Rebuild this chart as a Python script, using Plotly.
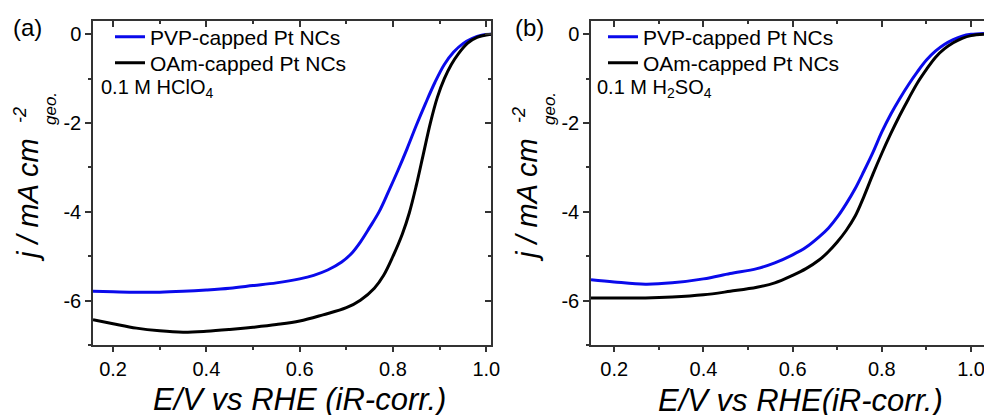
import plotly.graph_objects as go

# ---------------- data ----------------
# Panel (a) 0.1 M HClO4
E_a_pvp = [0.157, 0.20, 0.25, 0.30, 0.35, 0.40, 0.45, 0.50, 0.55, 0.60, 0.63, 0.66, 0.69, 0.71,
           0.73, 0.75, 0.77, 0.79, 0.81, 0.83, 0.85, 0.87, 0.89, 0.91, 0.93, 0.95, 0.97, 0.99, 1.01]
j_a_pvp = [-5.79, -5.80, -5.81, -5.81, -5.79, -5.76, -5.72, -5.66, -5.60, -5.51, -5.43, -5.31, -5.13, -4.95,
           -4.68, -4.35, -4.00, -3.55, -3.08, -2.58, -2.05, -1.55, -1.08, -0.68, -0.40, -0.21, -0.09, -0.02, 0.0]
E_a_oam = [0.157, 0.20, 0.25, 0.30, 0.35, 0.40, 0.45, 0.50, 0.55, 0.60, 0.65, 0.70, 0.73, 0.76, 0.78,
           0.80, 0.82, 0.835, 0.85, 0.865, 0.88, 0.895, 0.91, 0.925, 0.94, 0.96, 0.98, 1.01]
j_a_oam = [-6.43, -6.52, -6.62, -6.68, -6.71, -6.69, -6.65, -6.60, -6.54, -6.46, -6.32, -6.16, -5.99, -5.72, -5.43,
           -5.00, -4.50, -4.02, -3.40, -2.70, -2.00, -1.42, -1.00, -0.68, -0.44, -0.20, -0.07, 0.0]

# Panel (b) 0.1 M H2SO4
E_b_pvp = [0.148, 0.20, 0.27, 0.33, 0.40, 0.46, 0.52, 0.56, 0.60, 0.63, 0.66, 0.68, 0.70, 0.72, 0.74,
           0.76, 0.78, 0.80, 0.82, 0.84, 0.86, 0.88, 0.90, 0.92, 0.94, 0.96, 0.98, 1.00, 1.029]
j_b_pvp = [-5.53, -5.58, -5.63, -5.60, -5.51, -5.39, -5.28, -5.15, -4.97, -4.80, -4.56, -4.37, -4.12, -3.82, -3.48,
           -3.08, -2.66, -2.20, -1.80, -1.45, -1.13, -0.84, -0.58, -0.38, -0.23, -0.12, -0.04, 0.0, 0.02]
E_b_oam = [0.148, 0.20, 0.27, 0.33, 0.40, 0.46, 0.52, 0.56, 0.60, 0.63, 0.66, 0.68, 0.70, 0.72, 0.74,
           0.76, 0.78, 0.80, 0.82, 0.84, 0.86, 0.88, 0.90, 0.92, 0.94, 0.96, 0.98, 1.00, 1.029]
j_b_oam = [-5.94, -5.94, -5.94, -5.92, -5.87, -5.79, -5.70, -5.60, -5.43, -5.28, -5.08, -4.90, -4.68, -4.42, -4.10,
           -3.65, -3.15, -2.68, -2.24, -1.83, -1.45, -1.09, -0.79, -0.52, -0.33, -0.19, -0.09, -0.03, 0.0]

series_names = ["PVP-capped Pt NCs", "OAm-capped Pt NCs"]
x_tickvals = [0.2, 0.4, 0.6, 0.8, 1.0]
x_ticktext = ["0.2", "0.4", "0.6", "0.8", "1.0"]
y_tickvals = [-6, -4, -2, 0]
y_ticktext = ["-6", "-4", "-2", "0"]
xrange_a = [0.157, 1.01]
xrange_b = [0.148, 1.029]
yrange = [-7.0, 0.3]

# ---------------- style ----------------
W, H = 984, 415
FONT = "Liberation Sans, Arial, sans-serif"
BLUE = "rgb(10,10,235)"
BLACK = "rgb(0,0,0)"
AX = "#333333"


def X(px):
    return px / W


def Y(py):
    return 1 - py / H


fig = go.Figure()

# panel a
fig.add_trace(go.Scatter(x=E_a_pvp, y=j_a_pvp, mode="lines", name=series_names[0],
                         line=dict(color=BLUE, width=3, shape="spline"), xaxis="x", yaxis="y", legend="legend"))
fig.add_trace(go.Scatter(x=E_a_oam, y=j_a_oam, mode="lines", name=series_names[1],
                         line=dict(color=BLACK, width=3, shape="spline"), xaxis="x", yaxis="y", legend="legend2"))
# panel b
fig.add_trace(go.Scatter(x=E_b_pvp, y=j_b_pvp, mode="lines", name=series_names[0],
                         line=dict(color=BLUE, width=3, shape="spline"), xaxis="x2", yaxis="y2", legend="legend3"))
fig.add_trace(go.Scatter(x=E_b_oam, y=j_b_oam, mode="lines", name=series_names[1],
                         line=dict(color=BLACK, width=3, shape="spline"), xaxis="x2", yaxis="y2", legend="legend4"))
# empty traces to activate overlay axes carrying inside mirror ticks
fig.add_trace(go.Scatter(x=[None], y=[None], xaxis="x3", yaxis="y3", showlegend=False, hoverinfo="skip"))
fig.add_trace(go.Scatter(x=[None], y=[None], xaxis="x4", yaxis="y4", showlegend=False, hoverinfo="skip"))

dom_a = [X(93), X(491)]
dom_b = [X(591), 1.0]
dom_y = [Y(345), Y(21)]

tickfont = dict(family=FONT, size=20, color="black")


def xax(rng, dom, anchor):
    return dict(range=rng, domain=dom, anchor=anchor, showgrid=False, zeroline=False,
                showline=True, linecolor=AX, linewidth=1.5, mirror=True,
                tickmode="array", tickvals=x_tickvals, ticktext=x_ticktext,
                ticks="outside", ticklen=5, tickwidth=1.5, tickcolor=AX, tickfont=tickfont,
                ticklabeloverflow="allow",
                minor=dict(dtick=0.1, tick0=0.1, ticks="outside", ticklen=3, tickwidth=1.5, tickcolor=AX),
                automargin=False, fixedrange=True)


def yax(dom, anchor, mirror):
    return dict(range=yrange, domain=dom, anchor=anchor, showgrid=False, zeroline=False,
                showline=True, linecolor=AX, linewidth=1.5, mirror=mirror,
                tickmode="array", tickvals=y_tickvals, ticktext=y_ticktext,
                ticks="outside", ticklen=6, tickwidth=1.5, tickcolor=AX, tickfont=tickfont,
                minor=dict(dtick=1, tick0=0, ticks="outside", ticklen=3, tickwidth=1.5, tickcolor=AX),
                automargin=False, fixedrange=True)


def overlay_x(rng, over, anchor):
    return dict(range=rng, overlaying=over, side="top", anchor=anchor, showgrid=False, zeroline=False,
                showline=False, showticklabels=False, tickmode="array", tickvals=x_tickvals,
                ticks="inside", ticklen=6, tickwidth=1.5, tickcolor=AX,
                minor=dict(dtick=0.1, tick0=0.1, ticks="inside", ticklen=3, tickwidth=1.5, tickcolor=AX),
                automargin=False, fixedrange=True)


def overlay_y(over, anchor, show):
    return dict(range=yrange, overlaying=over, side="right", anchor=anchor, showgrid=False, zeroline=False,
                showline=False, showticklabels=False, tickmode="array", tickvals=y_tickvals,
                ticks="inside" if show else "", ticklen=6, tickwidth=1.5, tickcolor=AX,
                minor=dict(dtick=1, tick0=0, ticks="inside" if show else "", ticklen=3, tickwidth=1.5, tickcolor=AX),
                automargin=False, fixedrange=True)


def leg(xpx, ypx):
    return dict(x=X(xpx), y=Y(ypx), font=dict(family=FONT, size=21, color="black"), bgcolor="rgba(0,0,0,0)",
                borderwidth=0, xanchor="left", yanchor="middle", tracegroupgap=0, itemwidth=30)


fig.update_layout(
    width=W, height=H, autosize=False,
    margin=dict(l=0, r=0, t=0, b=0, pad=0),
    paper_bgcolor="white", plot_bgcolor="white",
    showlegend=True,
    xaxis=xax(xrange_a, dom_a, "y"),
    yaxis=yax(dom_y, "x", True),
    xaxis2=xax(xrange_b, dom_b, "y2"),
    yaxis2=yax(dom_y, "x2", False),
    xaxis3=overlay_x(xrange_a, "x", "y3"),
    yaxis3=overlay_y("y", "x3", True),
    xaxis4=overlay_x(xrange_b, "x2", "y4"),
    yaxis4=overlay_y("y2", "x4", False),
    legend=leg(110, 37),
    legend2=leg(110, 63),
    legend3=leg(603, 37),
    legend4=leg(603, 63),
)

ann = []
# panel labels
ann.append(dict(text="(a)", x=X(27), y=Y(28), font=dict(family=FONT, size=24, color="black")))
ann.append(dict(text="(b)", x=X(529), y=Y(28), font=dict(family=FONT, size=24, color="black")))
# electrolyte notes
ann.append(dict(text="0.1 M HClO<sub>4</sub>", x=X(99), y=Y(89), xanchor="left",
                font=dict(family=FONT, size=20, color="black")))
ann.append(dict(text="0.1 M H<sub>2</sub>SO<sub>4</sub>", x=X(595), y=Y(89), xanchor="left",
                font=dict(family=FONT, size=20, color="black")))
# x titles
ann.append(dict(text="<i>E/V vs RHE (iR-corr.)</i>", x=X(299), y=Y(399),
                font=dict(family=FONT, size=31, color="black")))
ann.append(dict(text="<i>E/V vs RHE(iR-corr.)</i>", x=X(800), y=Y(400),
                font=dict(family=FONT, size=31, color="black")))
# y titles (main text + stacked superscript / subscript)
for dx in (0, 499):
    ann.append(dict(text="<i>j / mA cm</i>", x=X(28 + dx), y=Y(200), textangle=-90,
                    font=dict(family=FONT, size=29, color="black")))
    ann.append(dict(text="<i>-2</i>", x=X(20 + dx), y=Y(115), textangle=-90,
                    font=dict(family=FONT, size=18, color="black")))
    ann.append(dict(text="<i>geo.</i>", x=X(50 + dx), y=Y(109), textangle=-90,
                    font=dict(family=FONT, size=17, color="black")))

for a in ann:
    a.setdefault("xanchor", "center")
    a.setdefault("yanchor", "middle")
    a.update(xref="paper", yref="paper", showarrow=False)
fig.update_layout(annotations=ann)

fig.write_html("out.html", config={"displayModeBar": False},
               post_script="document.body.style.margin='0';document.body.style.overflow='hidden';")
